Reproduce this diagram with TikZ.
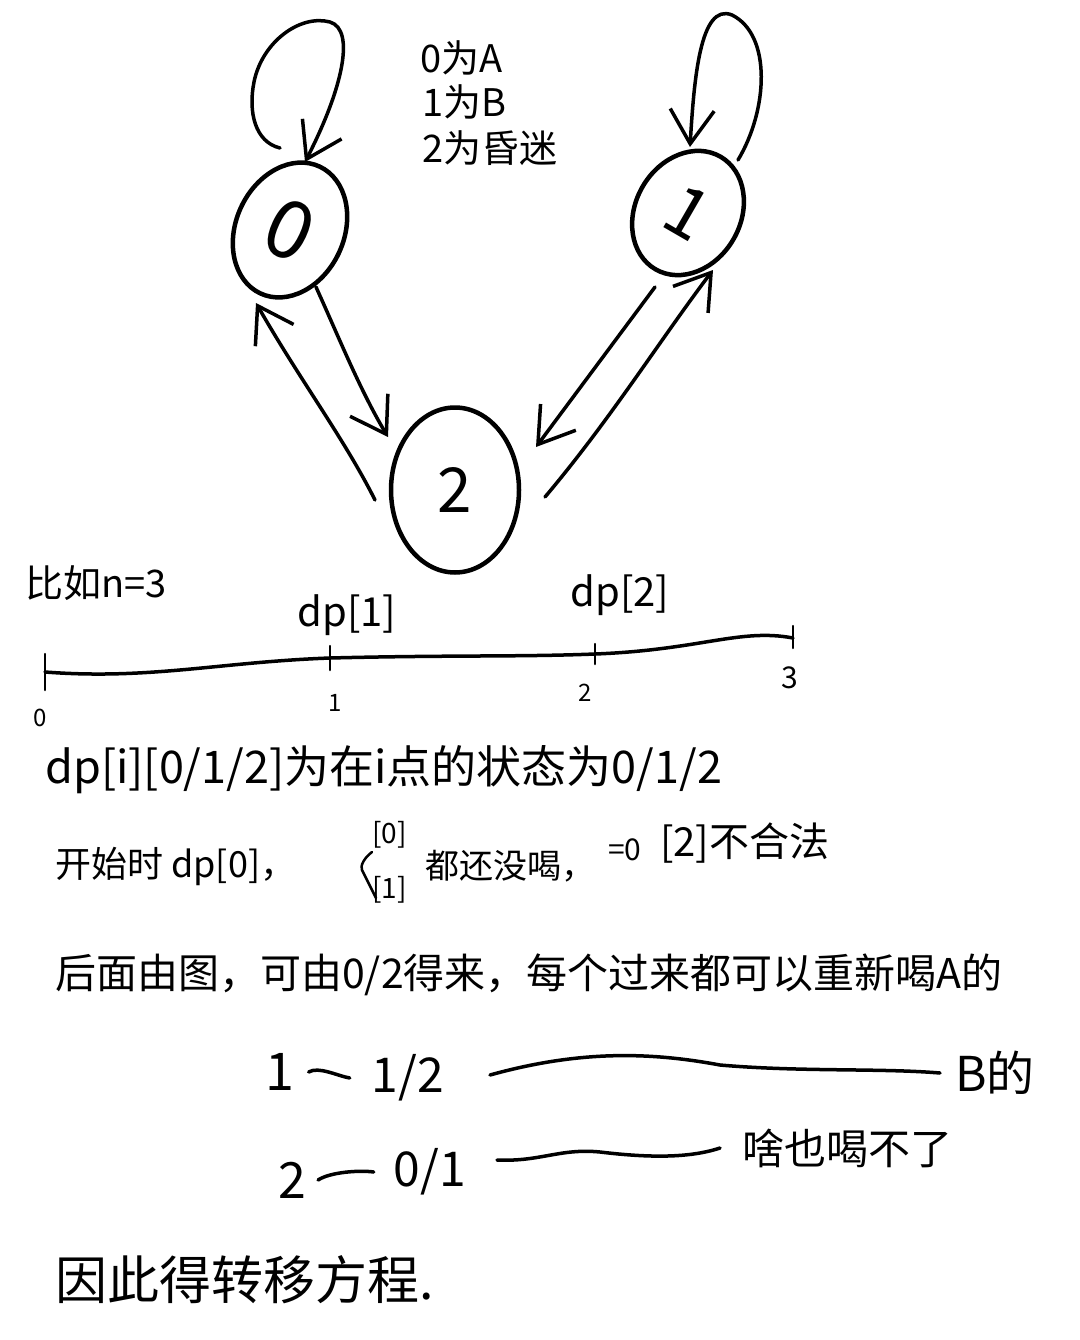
\documentclass[tikz,border=0pt]{standalone}
\usepackage{fontspec}
\setmainfont{Noto Sans CJK SC}
\usetikzlibrary{arrows.meta,shapes.geometric}
\newcommand\hsz[1]{\fontsize{#1pt}{#1pt}\selectfont}
\begin{document}
\begin{tikzpicture}[x=1pt,y=-1pt,
  pen/.style={line width=3.5pt,line cap=round,line join=round},
  thinpen/.style={line width=2.5pt,line cap=round,line join=round},
  state/.style={draw,ellipse,line width=4.5pt,inner sep=0pt},
  harrow/.style={pen,-{Straight Barb[length=34pt,width=44pt,line width=3.5pt]}},
  txt/.style={inner sep=0pt,anchor=west},
  lbl/.style={inner sep=0pt},
]
\fill[white] (0,0) rectangle (1079,1340);
\useasboundingbox (0,0) rectangle (1079,1340);

% --- state graph ---
\node[state,rotate=-25,minimum width=108pt,minimum height=140pt] (n0) at (290,230) {\hsz{80}0};
\node[state,rotate=-30,minimum width=105pt,minimum height=130pt] (n1) at (688,213) {\hsz{70}1};
\node[state,minimum width=128pt,minimum height=165pt] (n2) at (455,490) {\hsz{62}2};

\coordinate (l0s) at (280,148);
\coordinate (l0e) at (305,162);
\draw[harrow] (l0s) .. controls (255,142) and (248,112) .. (254,82) .. controls (262,42) and (300,14) .. (330,22) .. controls (356,30) and (342,90) .. (l0e);

\coordinate (l1s) at (738,160);
\coordinate (l1e) at (690,147);
\draw[harrow] (l1s) .. controls (768,110) and (772,35) .. (732,15) .. controls (700,2) and (694,80) .. (l1e);

\coordinate (a02s) at (316,287);
\coordinate (a02e) at (388,437);
\draw[harrow] (a02s) .. controls (340,340) and (360,390) .. (a02e);
\coordinate (a20s) at (375,500);
\coordinate (a20e) at (256,303);
\draw[harrow] (a20s) .. controls (345,440) and (300,380) .. (a20e);

\coordinate (a12s) at (655,287);
\coordinate (a12e) at (536,447);
\draw[harrow] (a12s) -- (a12e);
\coordinate (a21s) at (545,497);
\coordinate (a21e) at (713,270);
\draw[harrow] (a21s) .. controls (610,420) and (660,340) .. (a21e);

% --- legend ---
\node[txt] (leg0) at (420,58) {\hsz{38}0为A};
\node[txt] (leg1) at (422,102) {\hsz{38}1为B};
\node[txt] (leg2) at (422,148) {\hsz{38}2为昏迷};

% --- number line ---
\node[txt] (eg) at (25,583) {\hsz{38}比如n=3};
\coordinate (ax0) at (45,672);
\coordinate (ax1) at (330,658);
\coordinate (ax2) at (595,654);
\coordinate (ax3) at (793,638);
\draw[pen] (ax0) .. controls (150,680) and (220,662) .. (ax1) .. controls (450,655) and (520,657) .. (ax2) .. controls (700,650) and (740,628) .. (ax3);
\draw[thinpen] ([yshift=18pt]ax0) -- ([yshift=-18pt]ax0);
\draw[thinpen] ([yshift=12pt]ax1) -- ([yshift=-12pt]ax1);
\draw[thinpen] ([yshift=10pt]ax2) -- ([yshift=-10pt]ax2);
\draw[thinpen] ([yshift=12pt]ax3) -- ([yshift=-10pt]ax3);
\node[lbl] (t0) at (40,718) {\hsz{24}0};
\node[lbl] (t1) at (335,703) {\hsz{24}1};
\node[lbl] (t2) at (585,693) {\hsz{24}2};
\node[lbl] (t3) at (790,678) {\hsz{30}3};
\node[lbl] (dp1) at (347,615) {\hsz{40}dp[1]};
\node[lbl] (dp2) at (620,595) {\hsz{40}dp[2]};

% --- explanation ---
\node[txt] (def) at (45,770) {\hsz{45}dp[i][0/1/2]为在i点的状态为0/1/2};
\node[txt] (init) at (55,866) {\hsz{36}开始时 dp[0]，};
\draw[thinpen] (372,852) .. controls (364,858) and (360,866) .. (362,870) -- (376,898);
\node[txt] (b0) at (372,835) {\hsz{28}[0]};
\node[txt] (b1) at (372,890) {\hsz{28}[1]};
\node[txt] (init2) at (425,866) {\hsz{34}都还没喝，};
\node[txt] (init3) at (608,850) {\hsz{30}=0};
\node[txt] (init4) at (660,843) {\hsz{40}[2]不合法};
\node[txt] (trans) at (55,975) {\hsz{41}后面由图，可由0/2得来，每个过来都可以重新喝A的};

% --- rows ---
\node[lbl] (r1a) at (280,1072) {\hsz{52}1};
\node[lbl] (r1b) at (408,1078) {\hsz{48}1/2};
\node[txt] (r1c) at (955,1073) {\hsz{48}B的};
\draw[pen] ([xshift=14pt]r1a.east) .. controls +(10,-6) and +(-12,-2) .. ([xshift=-22pt]r1b.west);
\coordinate (r1s) at (490,1075);
\draw[pen] (r1s) .. controls (580,1050) and (650,1052) .. (720,1065) .. controls (800,1072) and (880,1068) .. ([xshift=-15pt]r1c.west);

\node[lbl] (r2a) at (292,1180) {\hsz{50}2};
\node[lbl] (r2b) at (430,1172) {\hsz{48}0/1};
\node[txt] (r2c) at (742,1148) {\hsz{42}啥也喝不了};
\draw[pen] ([xshift=12pt]r2a.east) .. controls +(12,-8) and +(-14,-2) .. ([xshift=-20pt]r2b.west);
\coordinate (r2s) at (497,1160);
\draw[pen] (r2s) .. controls (540,1162) and (560,1148) .. (600,1152) .. controls (650,1158) and (690,1158) .. ([xshift=-22pt]r2c.west);

\node[txt] (concl) at (55,1280) {\hsz{52}因此得转移方程.};
\end{tikzpicture}
\end{document}
